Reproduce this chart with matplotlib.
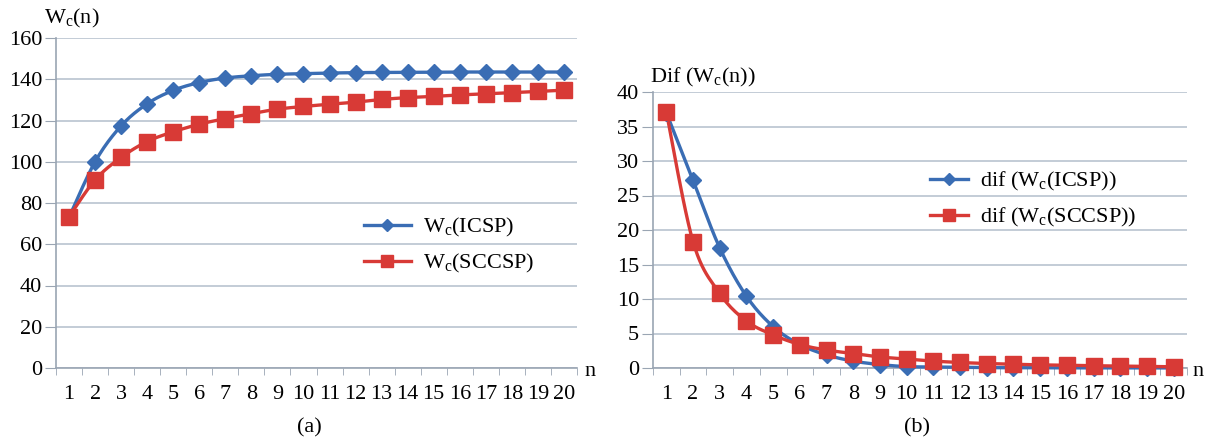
import numpy as np
import matplotlib
matplotlib.use("Agg")
import matplotlib.pyplot as plt
from matplotlib.lines import Line2D

plt.rcParams['font.family'] = ['Liberation Serif', 'DejaVu Serif']
plt.rcParams['mathtext.fontset'] = 'custom'
plt.rcParams['mathtext.rm'] = 'Liberation Serif'
plt.rcParams['mathtext.it'] = 'Liberation Serif'

n = list(range(1, 21))
wc_icsp = [73, 100, 117.4, 128.1, 134.6, 138.4, 140.6, 141.7, 142.4, 142.7,
           143.0, 143.2, 143.3, 143.4, 143.4, 143.5, 143.5, 143.5, 143.5, 143.5]
wc_sccsp = [73.3, 91.2, 102.1, 109.8, 114.5, 118.2, 120.9, 123.3, 125.5, 126.8,
            127.9, 128.9, 130.2, 131.1, 131.7, 132.4, 132.9, 133.5, 134.1, 134.7]
dif_icsp = [37.0, 27.2, 17.4, 10.4, 6.0, 3.4, 1.9, 1.0, 0.5, 0.2,
            0.15, 0.1, 0.05, 0.05, 0.03, 0.02, 0.02, 0.01, 0.01, 0.01]
dif_sccsp = [37.1, 18.3, 10.8, 6.8, 4.8, 3.4, 2.6, 2.1, 1.6, 1.3,
             1.0, 0.8, 0.65, 0.55, 0.45, 0.4, 0.33, 0.28, 0.22, 0.18]

left_yticks = [0, 20, 40, 60, 80, 100, 120, 140, 160]
right_yticks = [0, 5, 10, 15, 20, 25, 30, 35, 40]

BLUE = '#3a6db4'
RED = '#d83a36'
GRID = '#b9c3cf'
AX = '#9aa5b3'
FS = 16


def smooth(x, y, k=12):
    x = np.asarray(x, float); y = np.asarray(y, float)
    P = np.column_stack([x, y])
    P = np.vstack([P[0], P, P[-1]])
    out = []
    t = np.linspace(0, 1, k, endpoint=False)
    for i in range(1, len(P) - 2):
        p0, p1, p2, p3 = P[i - 1], P[i], P[i + 1], P[i + 2]
        for tt in t:
            t2, t3 = tt * tt, tt * tt * tt
            pt = 0.5 * ((2 * p1) + (-p0 + p2) * tt + (2 * p0 - 5 * p1 + 4 * p2 - p3) * t2
                        + (-p0 + 3 * p1 - 3 * p2 + p3) * t3)
            out.append(pt)
    out.append(P[-2])
    out = np.array(out)
    return out[:, 0], out[:, 1]


W, H = 1221, 441
fig = plt.figure(figsize=(W / 100, H / 100), dpi=100)


def make_ax(x0, x1, ytop, ybot):
    return fig.add_axes([x0 / W, 1 - ybot / H, (x1 - x0) / W, (ybot - ytop) / H])


def style(ax, yticks, ymax):
    ax.set_xlim(0.5, 20.5)
    ax.set_ylim(0, ymax)
    ax.set_yticks(yticks)
    ax.set_xticks(n)
    ax.set_xticklabels([str(v) for v in n], fontsize=FS)
    ax.set_xticks(np.arange(0.5, 21.0, 1.0), minor=True)
    ax.tick_params(axis='x', which='major', length=0, pad=12)
    ax.tick_params(axis='x', which='minor', length=5, color=AX, direction='out')
    ax.tick_params(axis='y', length=8, color=AX, labelsize=FS, pad=2)
    for s in ['top', 'right']:
        ax.spines[s].set_visible(False)
    for s in ['left', 'bottom']:
        ax.spines[s].set_color(AX)
        ax.spines[s].set_linewidth(1.2)
    ax.grid(axis='y', color=GRID, linewidth=1.2)
    ax.set_axisbelow(True)


def draw(ax, a, b):
    xs, ys = smooth(n, a)
    ax.plot(xs, ys, color=BLUE, lw=2.4, zorder=3, clip_on=False)
    ax.plot(n, a, ls='none', marker='D', ms=8, color=BLUE, zorder=4, clip_on=False)
    xs, ys = smooth(n, b)
    ax.plot(xs, ys, color=RED, lw=2.4, zorder=3, clip_on=False)
    ax.plot(n, b, ls='none', marker='s', ms=11, color=RED, zorder=4, clip_on=False)


# Left
ax1 = make_ax(56, 577, 38, 368)
style(ax1, left_yticks, 160)
draw(ax1, wc_icsp, wc_sccsp)
fig.text(72 / W, 1 - 18 / H, r'W$_{\mathrm{c}}$(n)', fontsize=FS, ha='center', va='center')
fig.text(590 / W, 1 - 372 / H, 'n', fontsize=FS, ha='center', va='center')
fig.text(309 / W, 1 - 428 / H, '(a)', fontsize=FS, ha='center', va='center')
h1 = [Line2D([], [], color=BLUE, lw=2.4, marker='D', ms=6),
      Line2D([], [], color=RED, lw=2.4, marker='s', ms=8)]
ax1.legend(h1, [r'W$_{\mathrm{c}}$(ICSP)', r'W$_{\mathrm{c}}$(SCCSP)'],
           loc='upper left', bbox_to_anchor=((364 - 56) / 521, 1 - (216 - 38) / 330),
           frameon=False, fontsize=FS, handlelength=2.1, handletextpad=0.55,
           labelspacing=0.6, borderaxespad=0, borderpad=0)

# Right
ax2 = make_ax(653, 1187, 92, 368)
style(ax2, right_yticks, 40)
draw(ax2, dif_icsp, dif_sccsp)
fig.text(703 / W, 1 - 77 / H, r'Dif (W$_{\mathrm{c}}$(n))', fontsize=FS, ha='center', va='center')
fig.text(1198 / W, 1 - 372 / H, 'n', fontsize=FS, ha='center', va='center')
fig.text(917 / W, 1 - 428 / H, '(b)', fontsize=FS, ha='center', va='center')
h2 = [Line2D([], [], color=BLUE, lw=2.4, marker='D', ms=6),
      Line2D([], [], color=RED, lw=2.4, marker='s', ms=8)]
ax2.legend(h2, [r'dif (W$_{\mathrm{c}}$(ICSP))', r'dif (W$_{\mathrm{c}}$(SCCSP))'],
           loc='upper left', bbox_to_anchor=((930 - 653) / 534, 1 - (170 - 92) / 276),
           frameon=False, fontsize=FS, handlelength=1.7, handletextpad=0.55,
           labelspacing=0.6, borderaxespad=0, borderpad=0)

fig.savefig('out.png', dpi=100)
